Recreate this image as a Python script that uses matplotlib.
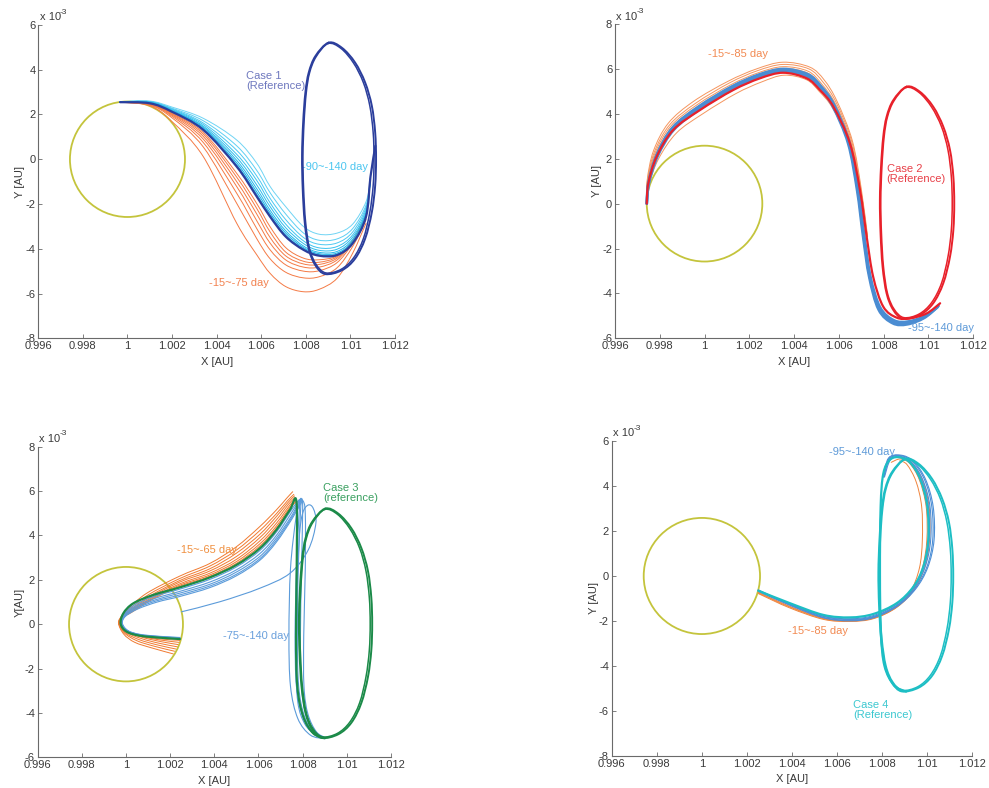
import numpy as np
import matplotlib
matplotlib.use('Agg')
import matplotlib.pyplot as plt
from matplotlib.path import Path
from matplotlib.patches import PathPatch, Ellipse

plt.rcParams['font.family'] = ['Liberation Sans', 'DejaVu Sans']
plt.rcParams['axes.unicode_minus'] = False

# Axis ticks (x in AU, y in 1e-3 AU)
XTICKS = [0.996, 0.998, 1.0, 1.002, 1.004, 1.006, 1.008, 1.010, 1.012]
XTICK_LABELS = ['0.996', '0.998', '1', '1.002', '1.004', '1.006', '1.008', '1.01', '1.012']

# Moon orbit circle
MOON_CENTER = (1.0, 0.0)
MOON_RADIUS = 0.00258

# Reference halo orbit, two revolutions (x AU, y 1e-3 AU)
HALO_X = [1.00902, 1.00843, 1.00813, 1.00798, 1.00788, 1.00783, 1.00786, 1.00795, 1.00813, 1.00843, 1.00887,
          1.00962, 1.01021, 1.01066, 1.01096, 1.01111, 1.01115, 1.01111, 1.01096, 1.01066, 1.01021, 1.00962]
HALO_Y = [5.21, 4.61, 3.87, 2.98, 1.64, 0.16, -1.32, -2.81, -4.00, -4.74, -5.13,
          -4.96, -4.44, -3.55, -2.37, -1.18, 0.01, 1.20, 2.39, 3.43, 4.32, 4.98]
HALO2_X = [1.00900, 1.00846, 1.00817, 1.00802, 1.00792, 1.00787, 1.00790, 1.00799, 1.00817, 1.00847, 1.00890,
           1.00958, 1.01014, 1.01058, 1.01087, 1.01102, 1.01106, 1.01102, 1.01087, 1.01058, 1.01014, 1.00958]
HALO2_Y = [5.17, 4.58, 3.87, 2.98, 1.64, 0.16, -1.32, -2.81, -4.00, -4.71, -5.08,
           -4.92, -4.41, -3.55, -2.37, -1.18, 0.01, 1.20, 2.39, 3.43, 4.30, 4.95]

# Case 1: y values of every trajectory at shared x knots
CASE1_X = [0.99967, 1.0010, 1.0020, 1.0034, 1.0049, 1.0058, 1.0064, 1.0071, 1.0079,
           1.0086, 1.0094, 1.0101, 1.0107, 1.0109, 1.01112]
CASE1_REF = [2.55, 2.50, 2.12, 1.31, -0.33, -1.67, -2.57, -3.46, -4.05, -4.31, -4.28, -3.76, -2.57, -0.78, 0.60]
CASE1_EARLY = [  # -15 ~ -75 day
    [2.55, 2.39, 1.68, 0.12, -2.86, -4.27, -5.10, -5.69, -5.92, -5.81, -5.32, -4.20, -2.86],
    [2.55, 2.42, 1.85, 0.55, -1.97, -3.55, -4.45, -5.05, -5.30, -5.25, -4.85, -3.90, -2.70],
    [2.55, 2.44, 1.92, 0.75, -1.52, -3.10, -4.05, -4.72, -5.00, -4.98, -4.62, -3.75, -2.60],
    [2.55, 2.45, 1.97, 0.90, -1.22, -2.75, -3.75, -4.50, -4.82, -4.82, -4.50, -3.68, -2.55],
    [2.55, 2.46, 2.01, 1.02, -1.00, -2.45, -3.50, -4.32, -4.68, -4.70, -4.42, -3.64, -2.52],
    [2.55, 2.47, 2.04, 1.12, -0.80, -2.20, -3.25, -4.15, -4.56, -4.60, -4.36, -3.62, -2.50],
    [2.55, 2.48, 2.07, 1.20, -0.63, -1.98, -3.02, -3.95, -4.42, -4.49, -4.32, -3.68, -2.52],
]
CASE1_LATE = [  # -90 ~ -140 day
    [2.57, 2.60, 2.33, 1.83, 0.86, -0.18, -1.22, -2.12, -3.01, -3.35, -3.30, -2.90, -1.90, -0.90],
    [2.57, 2.58, 2.28, 1.72, 0.60, -0.50, -1.50, -2.45, -3.30, -3.62, -3.56, -3.10, -2.05, -0.90],
    [2.57, 2.57, 2.25, 1.62, 0.40, -0.75, -1.75, -2.70, -3.50, -3.80, -3.74, -3.25, -2.15, -0.88],
    [2.56, 2.56, 2.22, 1.55, 0.22, -0.95, -1.95, -2.90, -3.65, -3.96, -3.90, -3.38, -2.25, -0.86],
    [2.56, 2.55, 2.19, 1.48, 0.08, -1.15, -2.12, -3.06, -3.77, -4.07, -4.02, -3.48, -2.35, -0.84],
    [2.56, 2.54, 2.17, 1.43, -0.05, -1.32, -2.28, -3.20, -3.88, -4.16, -4.12, -3.58, -2.42, -0.82],
    [2.56, 2.53, 2.15, 1.38, -0.16, -1.46, -2.40, -3.30, -3.95, -4.22, -4.19, -3.66, -2.48, -0.80],
    [2.55, 2.52, 2.14, 1.35, -0.25, -1.57, -2.49, -3.39, -4.00, -4.27, -4.24, -3.72, -2.53, -0.79],
]
CASE1_LATE_COLORS = ['#6FD4F4', '#5ECFF3', '#4DC9F1', '#3CC3EF', '#2DBDEC', '#22B6E9', '#1AAFE6', '#14A8E2']

# Case 2 trajectories as (x, y) points
CASE2_REF = [(0.99742, 0.0), (0.99749, 0.90), (0.99786, 2.09), (0.99860, 3.28), (0.99980, 4.17),
             (1.00128, 5.06), (1.00247, 5.58), (1.00351, 5.83), (1.00456, 5.58), (1.00515, 5.06),
             (1.00575, 4.32), (1.00649, 2.69), (1.00694, 0.61), (1.00724, -1.47), (1.00753, -3.26),
             (1.00798, -4.59), (1.00858, -5.08), (1.00917, -5.11), (1.00992, -4.89), (1.01052, -4.44)]
CASE2_EARLY = [  # -15 ~ -85 day
    [(0.99742, 0.0), (0.99744, 1.05), (0.99772, 2.35), (0.99838, 3.58), (0.99950, 4.55), (1.00105, 5.45),
     (1.00232, 6.00), (1.00350, 6.30), (1.00470, 6.08), (1.00535, 5.50), (1.00592, 4.55), (1.00660, 2.80),
     (1.00700, 0.65), (1.00728, -1.47)],
    [(0.99742, 0.0), (0.99745, 1.02), (0.99776, 2.30), (0.99845, 3.52), (0.99960, 4.47), (1.00112, 5.38),
     (1.00236, 5.92), (1.00350, 6.20), (1.00466, 6.00), (1.00530, 5.40), (1.00588, 4.50), (1.00657, 2.78),
     (1.00698, 0.64), (1.00727, -1.47)],
    [(0.99742, 0.0), (0.99746, 1.00), (0.99779, 2.25), (0.99850, 3.46), (0.99966, 4.40), (1.00118, 5.30),
     (1.00240, 5.83), (1.00350, 6.10), (1.00462, 5.90), (1.00524, 5.32), (1.00584, 4.45), (1.00654, 2.75),
     (1.00697, 0.63), (1.00726, -1.47)],
    [(0.99742, 0.0), (0.99747, 0.97), (0.99782, 2.20), (0.99855, 3.40), (0.99972, 4.33), (1.00122, 5.22),
     (1.00242, 5.76), (1.00350, 6.02), (1.00460, 5.82), (1.00520, 5.25), (1.00580, 4.40), (1.00652, 2.72),
     (1.00696, 0.62), (1.00725, -1.47)],
    [(0.99742, 0.0), (0.99752, 0.85), (0.99795, 2.00), (0.99875, 3.15), (0.99995, 4.02), (1.00140, 4.90),
     (1.00255, 5.42), (1.00355, 5.72), (1.00455, 5.52), (1.00512, 5.00), (1.00572, 4.25), (1.00646, 2.65),
     (1.00692, 0.60), (1.00722, -1.47)],
]
CASE2_LATE = [  # -95 ~ -140 day
    [(0.99742, 0.0), (0.99750, 0.97), (0.99787, 2.20), (0.99858, 3.40), (0.99974, 4.33), (1.00122, 5.22),
     (1.00243, 5.75), (1.00352, 6.00), (1.00462, 5.76), (1.00521, 5.22), (1.00578, 4.42), (1.00647, 2.72),
     (1.00687, 0.62), (1.00714, -1.47), (1.00741, -3.26), (1.00784, -4.62), (1.00846, -5.20),
     (1.00910, -5.25), (1.00985, -5.00), (1.01045, -4.55)],
    [(0.99742, 0.0), (0.99751, 0.94), (0.99789, 2.16), (0.99861, 3.35), (0.99977, 4.27), (1.00125, 5.16),
     (1.00245, 5.69), (1.00352, 5.95), (1.00459, 5.71), (1.00518, 5.17), (1.00575, 4.38), (1.00644, 2.70),
     (1.00684, 0.61), (1.00711, -1.47), (1.00738, -3.26), (1.00780, -4.68), (1.00843, -5.27),
     (1.00908, -5.32), (1.00983, -5.05), (1.01043, -4.58)],
    [(0.99742, 0.0), (0.99752, 0.91), (0.99791, 2.12), (0.99864, 3.30), (0.99980, 4.21), (1.00128, 5.10),
     (1.00247, 5.63), (1.00352, 5.89), (1.00456, 5.66), (1.00515, 5.12), (1.00572, 4.34), (1.00641, 2.68),
     (1.00681, 0.60), (1.00708, -1.47), (1.00735, -3.26), (1.00777, -4.72), (1.00840, -5.33),
     (1.00905, -5.38), (1.00980, -5.10), (1.01040, -4.62)],
]

# Case 3
CASE3_REF = [(1.00244, -0.67), (1.00154, -0.61), (1.00063, -0.52), (1.00003, -0.34), (0.99976, 0.01),
             (0.99988, 0.49), (1.00033, 0.94), (1.00124, 1.32), (1.00244, 1.66), (1.00380, 2.11),
             (1.00500, 2.67), (1.00606, 3.42), (1.00681, 4.25), (1.00742, 5.15), (1.00772, 5.52),
             (1.00773, 2.44), (1.00770, -0.56), (1.00776, -2.82), (1.00803, -4.17), (1.00848, -4.92),
             (1.00901, -5.14)]
CASE3_EARLY = [  # -15 ~ -65 day
    [(1.00214, -1.34), (1.00120, -1.08), (1.00040, -0.82), (0.99990, -0.45), (0.99966, 0.05), (0.99982, 0.40),
     (1.00003, 0.64), (1.00093, 1.39), (1.00244, 2.17), (1.00380, 2.74), (1.00500, 3.49), (1.00606, 4.40),
     (1.00681, 5.15), (1.00727, 5.67), (1.00755, 5.97)],
    [(1.00220, -1.22), (1.00130, -1.00), (1.00050, -0.75), (0.99993, -0.40), (0.99967, 0.05), (0.99983, 0.38),
     (1.00008, 0.62), (1.00100, 1.32), (1.00244, 2.06), (1.00380, 2.62), (1.00500, 3.34), (1.00606, 4.22),
     (1.00681, 4.98), (1.00730, 5.55), (1.00760, 5.85)],
    [(1.00226, -1.12), (1.00140, -0.93), (1.00060, -0.70), (0.99996, -0.38), (0.99968, 0.04), (0.99984, 0.36),
     (1.00012, 0.60), (1.00106, 1.26), (1.00244, 1.97), (1.00380, 2.50), (1.00500, 3.20), (1.00606, 4.05),
     (1.00681, 4.85), (1.00735, 5.50), (1.00763, 5.78)],
    [(1.00232, -1.02), (1.00150, -0.86), (1.00070, -0.65), (0.99998, -0.35), (0.99969, 0.04), (0.99985, 0.35),
     (1.00015, 0.58), (1.00110, 1.22), (1.00244, 1.90), (1.00380, 2.40), (1.00500, 3.05), (1.00606, 3.90),
     (1.00681, 4.70), (1.00740, 5.45), (1.00766, 5.70)],
    [(1.00236, -0.92), (1.00160, -0.79), (1.00080, -0.61), (1.00000, -0.33), (0.99970, 0.03), (0.99986, 0.34),
     (1.00018, 0.56), (1.00114, 1.18), (1.00244, 1.82), (1.00380, 2.30), (1.00500, 2.92), (1.00606, 3.75),
     (1.00681, 4.55), (1.00745, 5.40), (1.00768, 5.62)],
    [(1.00240, -0.82), (1.00160, -0.72), (1.00080, -0.57), (1.00001, -0.32), (0.99971, 0.03), (0.99987, 0.33),
     (1.00021, 0.55), (1.00117, 1.15), (1.00244, 1.76), (1.00380, 2.22), (1.00500, 2.82), (1.00606, 3.62),
     (1.00681, 4.42), (1.00748, 5.35), (1.00770, 5.56)],
    [(1.00244, -0.73), (1.00160, -0.67), (1.00070, -0.55), (1.00002, -0.33), (0.99972, 0.02), (0.99988, 0.32),
     (1.00025, 0.53), (1.00120, 1.12), (1.00244, 1.71), (1.00380, 2.16), (1.00500, 2.74), (1.00606, 3.52),
     (1.00681, 4.33), (1.00750, 5.30), (1.00772, 5.52)],
]
CASE3_LATE = [  # -75 ~ -140 day
    [(1.00244, -0.63), (1.00154, -0.58), (1.00063, -0.49), (1.00005, -0.31), (0.99979, 0.02), (0.99990, 0.42),
     (1.00035, 0.85), (1.00124, 1.24), (1.00244, 1.58), (1.00380, 2.02), (1.00500, 2.58), (1.00606, 3.32),
     (1.00681, 4.15), (1.00742, 5.05), (1.00775, 5.50), (1.00788, 5.58), (1.00784, 5.00), (1.00772, 2.50),
     (1.00766, -0.50), (1.00772, -2.80), (1.00800, -4.15), (1.00848, -4.92), (1.00901, -5.14)],
    [(1.00244, -0.61), (1.00154, -0.56), (1.00063, -0.47), (1.00007, -0.30), (0.99981, 0.02), (0.99992, 0.40),
     (1.00040, 0.80), (1.00130, 1.16), (1.00244, 1.48), (1.00380, 1.90), (1.00500, 2.45), (1.00606, 3.18),
     (1.00681, 4.00), (1.00745, 4.95), (1.00780, 5.50), (1.00790, 5.60), (1.00770, 4.80), (1.00745, 2.50),
     (1.00738, -0.50), (1.00745, -2.80), (1.00778, -4.25), (1.00835, -5.00), (1.00900, -5.16)],
    [(1.00244, -0.60), (1.00154, -0.55), (1.00063, -0.46), (1.00008, -0.29), (0.99982, 0.02), (0.99994, 0.38),
     (1.00044, 0.76), (1.00134, 1.10), (1.00244, 1.40), (1.00380, 1.80), (1.00500, 2.35), (1.00606, 3.05),
     (1.00681, 3.88), (1.00748, 4.85), (1.00784, 5.52), (1.00794, 5.64), (1.00790, 5.00), (1.00780, 2.50),
     (1.00776, -0.50), (1.00782, -2.80), (1.00808, -4.15), (1.00852, -4.90), (1.00902, -5.14)],
    [(1.00244, -0.62), (1.00154, -0.57), (1.00063, -0.48), (1.00009, -0.30), (0.99983, 0.02), (0.99995, 0.36),
     (1.00048, 0.72), (1.00138, 1.05), (1.00244, 1.32), (1.00380, 1.72), (1.00500, 2.25), (1.00606, 2.95),
     (1.00681, 3.78), (1.00750, 4.80), (1.00788, 5.50), (1.00798, 5.62), (1.00800, 5.00), (1.00795, 2.50),
     (1.00790, -0.50), (1.00795, -2.80), (1.00816, -4.10), (1.00856, -4.88), (1.00903, -5.13)],
    [(1.00244, -0.64), (1.00154, -0.59), (1.00063, -0.50), (1.00010, -0.31), (0.99984, 0.02), (0.99996, 0.34),
     (1.00052, 0.68), (1.00142, 1.00), (1.00244, 1.25), (1.00380, 1.65), (1.00500, 2.18), (1.00606, 2.88),
     (1.00681, 3.70), (1.00752, 4.75), (1.00792, 5.45), (1.00802, 5.55), (1.00812, 5.00), (1.00812, 2.50),
     (1.00805, -0.50), (1.00806, -2.80), (1.00824, -4.05), (1.00862, -4.85), (1.00904, -5.12)],
    [(1.00252, 0.56), (1.00425, 1.01), (1.00606, 1.62), (1.00742, 2.29), (1.00825, 3.34), (1.00860, 4.55),
     (1.00848, 5.22), (1.00825, 5.37), (1.00800, 5.00), (1.00785, 3.95), (1.00775, 1.50), (1.00770, -1.50),
     (1.00778, -3.50), (1.00810, -4.50), (1.00860, -5.00), (1.00905, -5.15)],
]

# Case 4
CASE4_REF = [(1.00250, -0.65), (1.00391, -1.21), (1.00539, -1.73), (1.00657, -1.84), (1.00760, -1.69),
             (1.00864, -1.21), (1.00938, -0.48), (1.00982, 0.41), (1.01004, 1.60), (1.01000, 3.08),
             (1.00970, 4.27), (1.00926, 5.01), (1.00879, 5.27), (1.00835, 5.17), (1.00805, 4.56),
             (1.00793, 3.08), (1.00790, 0.12), (1.00794, -2.50), (1.00810, -4.00), (1.00852, -4.85),
             (1.00906, -5.14)]
CASE4_EARLY = [  # -15 ~ -85 day
    [(1.00250, -0.72), (1.00390, -1.35), (1.00540, -1.88), (1.00657, -1.98), (1.00760, -1.86), (1.00864, -1.36),
     (1.00935, -0.62), (1.00978, 0.35), (1.00998, 1.60), (1.00995, 3.08), (1.00965, 4.27), (1.00922, 5.00),
     (1.00880, 5.20), (1.00840, 5.05)],
    [(1.00250, -0.78), (1.00390, -1.42), (1.00540, -1.93), (1.00657, -2.02), (1.00760, -1.90), (1.00860, -1.42),
     (1.00925, -0.70), (1.00965, 0.35), (1.00978, 1.60), (1.00975, 3.08), (1.00950, 4.20), (1.00910, 4.95),
     (1.00878, 5.12)],
    [(1.00250, -0.75), (1.00390, -1.38), (1.00540, -1.90), (1.00657, -2.00), (1.00760, -1.88), (1.00866, -1.38),
     (1.00940, -0.62), (1.00988, 0.36), (1.01010, 1.60), (1.01008, 3.08), (1.00978, 4.27), (1.00930, 5.05),
     (1.00882, 5.25)],
]
CASE4_LATE = [  # -95 ~ -140 day
    [(1.00250, -0.62), (1.00390, -1.25), (1.00540, -1.80), (1.00657, -1.93), (1.00760, -1.80), (1.00864, -1.30),
     (1.00940, -0.55), (1.00990, 0.40), (1.01015, 1.60), (1.01012, 3.08), (1.00980, 4.27), (1.00930, 5.05),
     (1.00878, 5.32), (1.00832, 5.20), (1.00808, 4.40)],
    [(1.00250, -0.66), (1.00390, -1.28), (1.00540, -1.84), (1.00657, -1.96), (1.00760, -1.83), (1.00866, -1.32),
     (1.00945, -0.56), (1.00998, 0.40), (1.01024, 1.60), (1.01020, 3.08), (1.00988, 4.27), (1.00935, 5.08),
     (1.00880, 5.35), (1.00830, 5.22), (1.00806, 4.40)],
    [(1.00250, -0.64), (1.00390, -1.24), (1.00540, -1.78), (1.00657, -1.90), (1.00760, -1.76), (1.00862, -1.26),
     (1.00936, -0.52), (1.00985, 0.42), (1.01008, 1.60), (1.01005, 3.08), (1.00975, 4.25), (1.00928, 5.02),
     (1.00880, 5.28), (1.00836, 5.16), (1.00810, 4.40)],
    [(1.00250, -0.68), (1.00390, -1.30), (1.00540, -1.86), (1.00657, -1.99), (1.00760, -1.86), (1.00868, -1.34),
     (1.00948, -0.58), (1.01002, 0.38), (1.01030, 1.60), (1.01026, 3.08), (1.00992, 4.30), (1.00938, 5.10),
     (1.00882, 5.37), (1.00828, 5.24), (1.00804, 4.40)],
]

MOON_COLOR = '#C4C43C'
AXIS_GREY = '#6a6a6a'
TEXT_GREY = '#3a3a3a'


# smooth curve through the read points (Catmull-Rom drawn as Bezier segments)
def smooth_path(xs, ys, closed=False):
    pts = np.column_stack([xs, ys]).astype(float)
    if closed:
        ext = np.vstack([pts[-1], pts, pts[0], pts[1]])
    else:
        ext = np.vstack([pts[0], pts, pts[-1]])
    verts = [ext[1]]
    codes = [Path.MOVETO]
    for i in range(1, len(ext) - 2):
        p0, p1, p2, p3 = ext[i - 1], ext[i], ext[i + 1], ext[i + 2]
        verts += [p1 + (p2 - p0) / 6.0, p2 - (p3 - p1) / 6.0, p2]
        codes += [Path.CURVE4] * 3
    return Path(verts, codes)


def draw(ax, xs, ys, color, lw=0.7, closed=False, z=2):
    ax.add_patch(PathPatch(smooth_path(xs, ys, closed), fill=False, edgecolor=color,
                           linewidth=lw, zorder=z, joinstyle='round', capstyle='round'))


def draw_points(ax, pts, color, lw=0.7, z=2):
    xs, ys = zip(*pts)
    draw(ax, xs, ys, color, lw, z=z)


def draw_common(ax, halo_color):
    ax.add_patch(Ellipse(MOON_CENTER, 2 * MOON_RADIUS, 2 * MOON_RADIUS * 1e3, fill=False,
                         edgecolor=MOON_COLOR, linewidth=1.3, zorder=1))
    draw(ax, HALO_X, HALO_Y, halo_color, lw=1.4, closed=True, z=5)
    draw(ax, HALO2_X, HALO2_Y, halo_color, lw=1.1, closed=True, z=5)


def setup_axes(ax, ylim, ylabel):
    ax.set_xlim(0.996, 1.012)
    ax.set_ylim(ylim)
    ax.set_xticks(XTICKS)
    ax.set_xticklabels(XTICK_LABELS)
    ax.set_yticks(range(ylim[0], ylim[1] + 1, 2))
    for s in ['top', 'right']:
        ax.spines[s].set_visible(False)
    for s in ['left', 'bottom']:
        ax.spines[s].set_color(AXIS_GREY)
        ax.spines[s].set_linewidth(0.8)
    ax.tick_params(direction='in', length=3, width=0.6, color=AXIS_GREY,
                   labelsize=8, labelcolor=TEXT_GREY, pad=2)
    ax.set_xlabel('X [AU]', fontsize=8, color=TEXT_GREY, labelpad=4)
    ax.set_ylabel(ylabel, fontsize=8, color=TEXT_GREY, labelpad=0)
    # MATLAB-style exponent label
    ax.text(0.004, 1.008, 'x 10', transform=ax.transAxes, ha='left', va='bottom',
            fontsize=8, color=TEXT_GREY)
    ax.annotate('-3', xy=(0.004, 1.008), xycoords='axes fraction', xytext=(14.5, 5),
                textcoords='offset points', ha='left', va='bottom', fontsize=6, color=TEXT_GREY)


fig = plt.figure(figsize=(9.89, 7.88), dpi=100)
ax1 = fig.add_axes([0.0387, 0.5707, 0.3607, 0.3976])
ax2 = fig.add_axes([0.6218, 0.5707, 0.3623, 0.3988])
ax3 = fig.add_axes([0.0381, 0.0390, 0.3572, 0.3941])
ax4 = fig.add_axes([0.6185, 0.0406, 0.3647, 0.3998])

# Case 1
for ys in CASE1_EARLY:
    draw(ax1, CASE1_X[:len(ys)], ys, '#F47A45')
for ys, col in zip(CASE1_LATE, CASE1_LATE_COLORS):
    draw(ax1, CASE1_X[:len(ys)], ys, col)
draw(ax1, CASE1_X, CASE1_REF, '#2B3E9C', lw=1.6, z=4)
draw_common(ax1, '#2B3E9C')
ax1.text(1.00532, 3.5, 'Case 1\n(Reference)', color='#6E78BE', fontsize=8, va='center', linespacing=1.0)
ax1.text(1.00783, -0.34, '-90~-140 day', color='#4CC6F0', fontsize=8, va='center')
ax1.text(1.00367, -5.53, '-15~-75 day', color='#F28250', fontsize=8, va='center')
setup_axes(ax1, (-8, 6), 'Y [AU]')

# Case 2
for pts in CASE2_EARLY:
    draw_points(ax2, pts, '#F5955E')
for pts in CASE2_LATE:
    draw_points(ax2, pts, '#4A8CD2', lw=1.9, z=3)
draw_points(ax2, CASE2_REF, '#E8202A', lw=1.6, z=4)
draw_common(ax2, '#E8202A')
ax2.text(1.00813, 1.34, 'Case 2\n(Reference)', color='#E84048', fontsize=8, va='center', linespacing=1.0)
ax2.text(1.00910, -5.54, '-95~-140 day', color='#5E9AD8', fontsize=8, va='center')
ax2.text(1.00017, 6.66, '-15~-85 day', color='#F28A52', fontsize=8, va='center')
setup_axes(ax2, (-6, 8), 'Y [AU]')

# Case 3
for pts in CASE3_EARLY:
    draw_points(ax3, pts, '#F07A30')
for pts in CASE3_LATE:
    draw_points(ax3, pts, '#5B9BDA', lw=0.8, z=3)
draw_points(ax3, CASE3_REF, '#1B8A48', lw=1.6, z=4)
draw_common(ax3, '#1B8A48')
ax3.text(1.00893, 5.9, 'Case 3\n(reference)', color='#3AA060', fontsize=8, va='center', linespacing=1.0)
ax3.text(1.00229, 3.34, '-15~-65 day', color='#F09040', fontsize=8, va='center')
ax3.text(1.00440, -0.53, '-75~-140 day', color='#6AA0DC', fontsize=8, va='center')
setup_axes(ax3, (-6, 8), 'Y[AU]')

# Case 4
for pts in CASE4_EARLY:
    draw_points(ax4, pts, '#F0843C')
for pts in CASE4_LATE:
    draw_points(ax4, pts, '#4C8ED6', lw=0.8, z=3)
draw_points(ax4, CASE4_REF, '#1DBEC4', lw=1.6, z=4)
draw_common(ax4, '#1DBEC4')
ax4.text(1.00672, -5.97, 'Case 4\n(Reference)', color='#3CC8D0', fontsize=8, va='center', linespacing=1.0)
ax4.text(1.00565, 5.50, '-95~-140 day', color='#5E9AD8', fontsize=8, va='center')
ax4.text(1.00383, -2.43, '-15~-85 day', color='#F28A52', fontsize=8, va='center')
setup_axes(ax4, (-8, 6), 'Y [AU]')

fig.savefig('out.png', dpi=100)
